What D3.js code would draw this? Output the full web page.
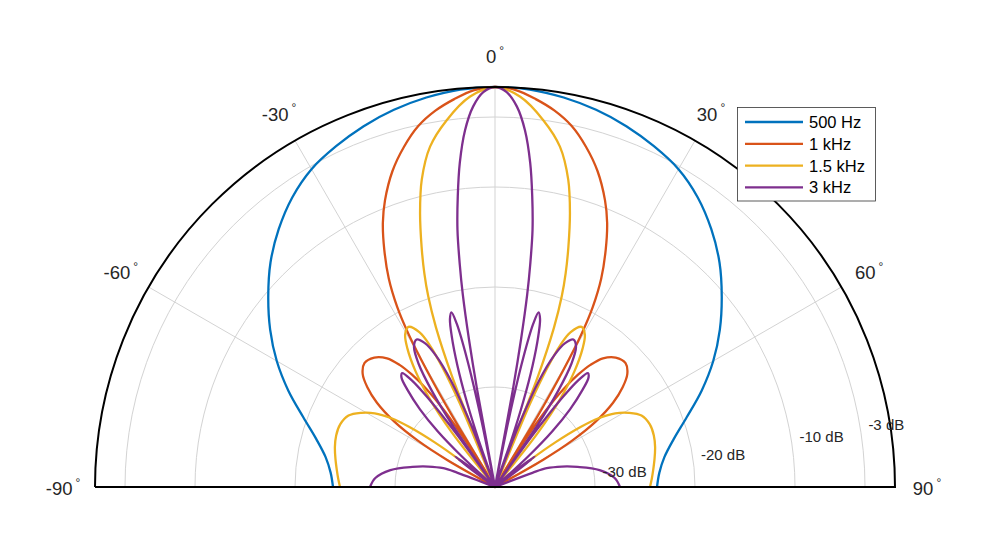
<!DOCTYPE html>
<html><head><meta charset="utf-8">
<script src="https://cdn.jsdelivr.net/npm/d3@7"></script>
<style>
body{margin:0;background:#fff}
svg{display:block}
text{font-family:"Liberation Sans",Arial,Helvetica,sans-serif}
</style>
</head><body>
<svg id="chart" width="1000" height="559"></svg>
<script>
// ---------- data ----------
const thetaTicks = [-90, -60, -30, 0, 30, 60, 90];
const thetaTickLabels = ["-90", "-60", "-30", "0", "30", "60", "90"];
const rTicks = [-30, -20, -10, -3];
const rTickLabels = ["-30 dB", "-20 dB", "-10 dB", "-3 dB"];
const rLimits = [-40, 0];
const seriesNames = ["500 Hz", "1 kHz", "1.5 kHz", "3 kHz"];
const seriesColors = ["#0072BD", "#D95319", "#EDB120", "#7E2F8E"];

// 500 Hz
const angles500 = [-90,-85,-80,-75,-70,-65,-60,-55,-50,-45,-40,-35,-30,-25,-20,-15,-10,-5,
  0,5,10,15,20,25,30,35,40,45,50,55,60,65,70,75,80,85,90];
const db500 = [-23.8,-23.5,-22.8,-21.5,-19.6,-17.2,-14.8,-12.55,-10.4,-8.25,-6.35,-4.65,-3.3,-2.4,-1.6,-0.95,-0.45,-0.1,
  0,-0.1,-0.45,-0.95,-1.6,-2.4,-3.3,-4.65,-6.35,-8.25,-10.4,-12.55,-14.8,-17.2,-19.6,-21.5,-22.8,-23.5,-23.8];

// 1 kHz
const angles1k = [-90,-61.5,-60.5,-59,-57,-54.5,-52,-49.5,-46.5,-43,-40,-38,-36.5,-35,-33.5,-32.5,-31.7,-31,-30.3,-29.5,-28.5,-27,-25,-23,-21,-18,-15,-12,-9,-6,-3,
  0,3,6,9,12,15,18,21,23,25,27,28.5,29.5,30.3,31,31.7,32.5,33.5,35,36.5,38,40,43,46.5,49.5,52,54.5,57,59,60.5,61.5,90];
const db1k = [-40,-40,-34.5,-31,-28,-25.5,-23.8,-22.6,-22,-22.3,-23.2,-24.5,-26,-28,-31,-34.5,-40,-31.5,-26.5,-22.5,-19.5,-16.6,-13.8,-11.3,-9.3,-6.8,-4.8,-3.1,-1.9,-1.0,-0.25,
  0,-0.25,-1.0,-1.9,-3.1,-4.8,-6.8,-9.3,-11.3,-13.8,-16.6,-19.5,-22.5,-26.5,-31.5,-40,-34.5,-31,-28,-26,-24.5,-23.2,-22.3,-22,-22.6,-23.8,-25.5,-28,-31,-34.5,-40,-40];

// 1.5 kHz
const angles1k5 = [-90,-87,-84,-80,-76,-72,-68,-64,-61,-58.5,-56.5,-55,-53.5,-52.5,-51.5,-39.5,-38.3,-36.5,-34.5,-32.3,-30.5,-28.4,-26,-24.7,-23.7,-22.8,-22,-21.2,-20.3,-19.3,-18.3,-17,-15.3,-13.4,-10.8,-7.5,-3.7,
  0,3.7,7.5,10.8,13.4,15.3,17,18.3,19.3,20.3,21.2,22,22.8,23.7,24.7,26,28.4,30.5,32.3,34.5,36.5,38.3,39.5,51.5,52.5,53.5,55,56.5,58.5,61,64,68,72,76,80,84,87,90];
const db1k5 = [-24.5,-24.3,-24.1,-23.8,-23.5,-23.3,-23.3,-23.7,-24.7,-25.9,-27.5,-29.5,-32.5,-35.5,-40,-40,-33,-29,-26,-23.6,-22.3,-21.8,-22.8,-24.4,-27,-31,-40,-28,-23,-19.8,-17.5,-14.9,-11.6,-8.4,-5.35,-3.0,-0.9,
  0,-0.9,-3.0,-5.35,-8.4,-11.6,-14.9,-17.5,-19.8,-23,-28,-40,-31,-27,-24.4,-22.8,-21.8,-22.3,-23.6,-26,-29,-33,-40,-40,-35.5,-32.5,-29.5,-27.5,-25.9,-24.7,-23.7,-23.3,-23.3,-23.5,-23.8,-24.1,-24.3,-24.5];

// 3 kHz
const angles3k = [-90,-85.7,-80.8,-76.3,-73,-70,-69.2,-68.5,-54.5,-53.5,-52.5,-51.5,-50.5,-48.5,-47.3,-45.8,-44,-42,-40.5,-39.2,-38,-37,-36,-35.3,-34.5,-33.3,-31.8,-30,-28,-26,-24.2,-22.5,-21,-19.9,-19.2,-18.3,-17.2,-16,-15,-14,-13.2,-12.3,-11.5,-10.8,-10.4,-10,-9.5,-9,-8.3,-7.3,-6.2,-4.8,-3.3,-1.7,
  0,1.7,3.3,4.8,6.2,7.3,8.3,9,9.5,10,10.4,10.8,11.5,12.3,13.2,14,15,16,17.2,18.3,19.2,19.9,21,22.5,24.2,26,28,30,31.8,33.3,34.5,35.3,36,37,38,39.2,40.5,42,44,45.8,47.3,48.5,50.5,51.5,52.5,53.5,54.5,68.5,69.2,70,73,76.3,80.8,85.7,90];
const db3k = [-27.5,-28,-29.4,-31.5,-33,-34.5,-36,-40,-40,-37,-35,-37,-40,-40,-35.5,-32,-29.2,-26.9,-25.6,-25.3,-26.4,-28.8,-33.5,-40,-32.5,-28.5,-25.5,-23.8,-23.3,-24,-25.6,-28.5,-33.5,-40,-35,-31,-27.3,-24.3,-22.6,-22,-23.2,-27,-33,-40,-30,-25,-20.5,-17.5,-14,-10.7,-7.4,-4.2,-1.9,-0.5,
  0,-0.5,-1.9,-4.2,-7.4,-10.7,-14,-17.5,-20.5,-25,-30,-40,-33,-27,-23.2,-22,-22.6,-24.3,-27.3,-31,-35,-40,-33.5,-28.5,-25.6,-24,-23.3,-23.8,-25.5,-28.5,-32.5,-40,-33.5,-28.8,-26.4,-25.3,-25.6,-26.9,-29.2,-32,-35.5,-40,-40,-37,-35,-37,-40,-40,-36,-34.5,-33,-31.5,-29.4,-28,-27.5];

const seriesAngles = [angles500, angles1k, angles1k5, angles3k];
const seriesDb = [db500, db1k, db1k5, db3k];

// ---------- drawing ----------
const cx = 495, cy = 487, R = 400;
const svg = d3.select("#chart");
const g = svg.append("g").attr("transform", `translate(${cx},${cy})`);
const rScale = d3.scaleLinear().domain(rLimits).range([0, R]).clamp(true);
const rad = d => d * Math.PI / 180;
const px = (deg, r) => r * Math.sin(rad(deg));
const py = (deg, r) => -r * Math.cos(rad(deg));
const gridColor = "#d3d3d3";
const textColor = "#262626";

// grid circles
rTicks.forEach(t => {
  const p = d3.path();
  const r = rScale(t);
  p.moveTo(-r, 0);
  p.arc(0, 0, r, Math.PI, 2 * Math.PI);
  g.append("path").attr("d", p.toString()).attr("fill", "none")
    .attr("stroke", gridColor).attr("stroke-width", 1);
});
// spokes
thetaTicks.filter(t => Math.abs(t) < 90).forEach(t => {
  g.append("line").attr("x1", 0).attr("y1", 0)
    .attr("x2", px(t, R)).attr("y2", py(t, R))
    .attr("stroke", gridColor).attr("stroke-width", 1);
});

// curves
const lineGen = d3.lineRadial()
  .angle(d => rad(d[0]))
  .radius(d => rScale(d[1]))
  .curve(d3.curveCatmullRom.alpha(0.5));

seriesAngles.forEach((angs, i) => {
  const pts = angs.map((a, j) => [a, seriesDb[i][j]]);
  g.append("path").attr("d", lineGen(pts)).attr("fill", "none")
    .attr("stroke", seriesColors[i]).attr("stroke-width", 2.3)
    .attr("stroke-linejoin", "round");
});

// outer frame
{
  const p = d3.path();
  p.moveTo(-R, 0);
  p.arc(0, 0, R, Math.PI, 2 * Math.PI);
  p.lineTo(-R, 0);
  g.append("path").attr("d", p.toString()).attr("fill", "none")
    .attr("stroke", "#000").attr("stroke-width", 2);
}

// theta tick labels
thetaTicks.forEach((t, i) => {
  const lr = R + 32;
  const txt = g.append("text")
    .attr("x", px(t, lr)).attr("y", py(t, lr) + 8)
    .attr("text-anchor", "middle").attr("font-size", 18.5)
    .attr("fill", textColor);
  txt.append("tspan").text(thetaTickLabels[i]);
  txt.append("tspan").attr("font-size", 12).attr("dx", 3).attr("dy", -8.5).text("°");
});

// r tick labels along 80 deg
rTicks.forEach((t, i) => {
  const r = rScale(t);
  g.append("text")
    .attr("x", px(80, r) + 9).attr("y", py(80, r) + 7.3)
    .attr("font-size", 15).attr("fill", textColor)
    .text(rTickLabels[i]);
});

// legend
const leg = svg.append("g");
leg.append("rect").attr("x", 737.5).attr("y", 107.5).attr("width", 138).attr("height", 93.5)
  .attr("fill", "#fff").attr("stroke", "#333").attr("stroke-width", 0.8);
seriesNames.forEach((n, i) => {
  const y = 122 + i * 21.8;
  leg.append("line").attr("x1", 745).attr("x2", 803).attr("y1", y).attr("y2", y)
    .attr("stroke", seriesColors[i]).attr("stroke-width", 2.3);
  leg.append("text").attr("x", 809).attr("y", y).attr("dy", "0.36em")
    .attr("font-size", 16.5).attr("fill", "#000").text(n);
});
</script>
</body></html>
